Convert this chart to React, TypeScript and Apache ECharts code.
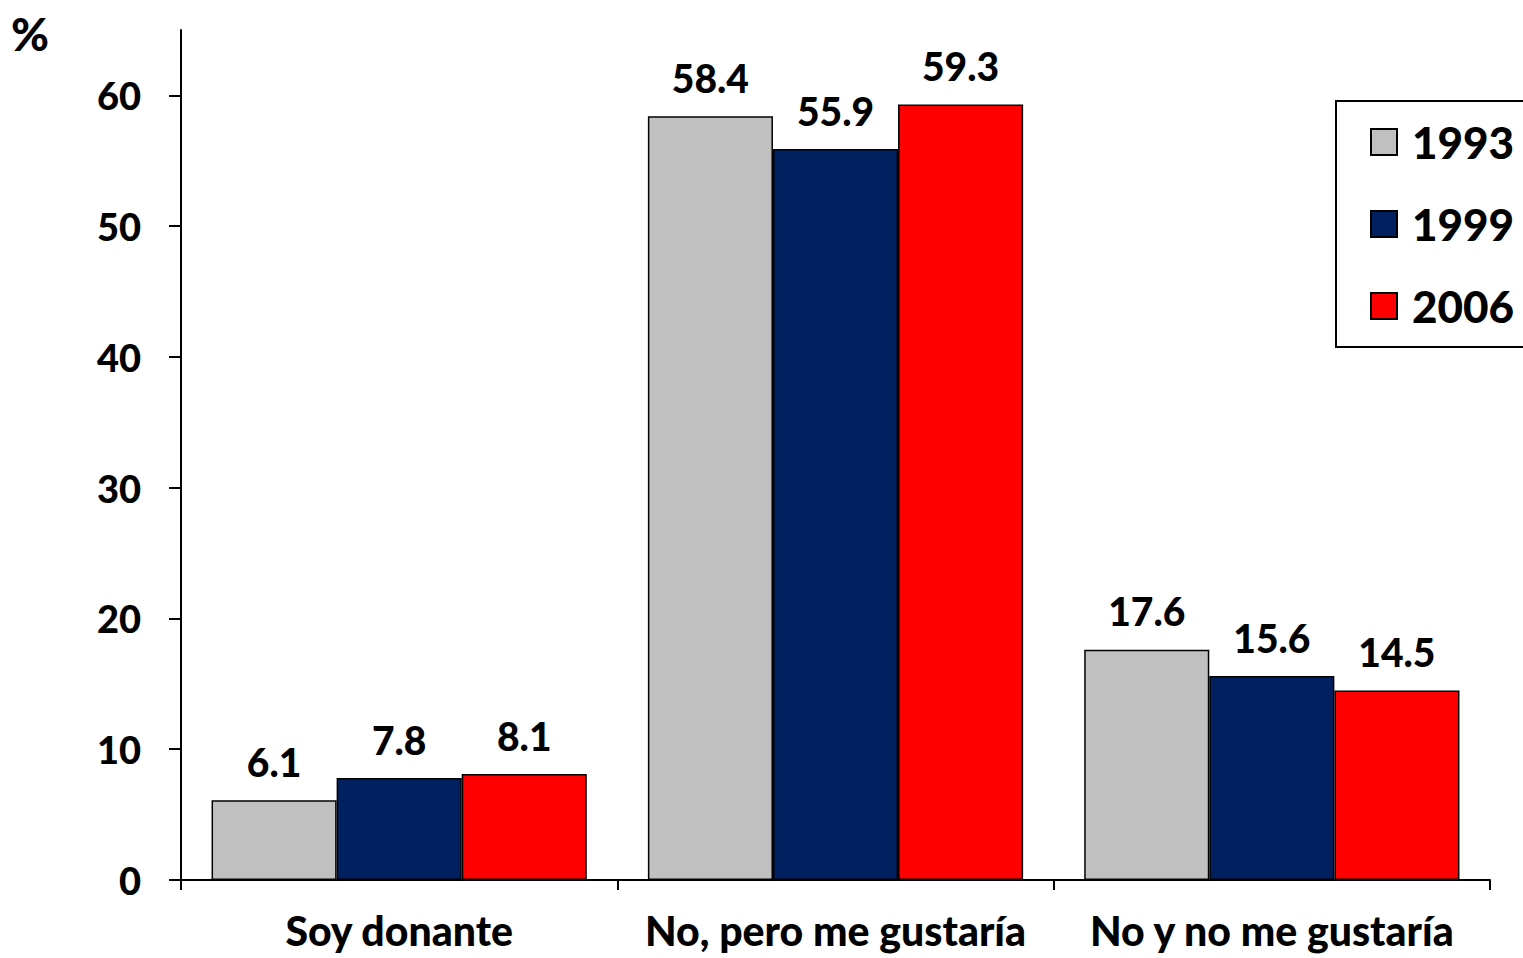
import React, { useEffect, useRef } from "react";
import * as echarts from "echarts";

const categories = ["Soy donante", "No, pero me gustaría", "No y no me gustaría"];
const seriesNames = ["1993", "1999", "2006"];
const values1993 = [6.1, 58.4, 17.6];
const values1999 = [7.8, 55.9, 15.6];
const values2006 = [8.1, 59.3, 14.5];
const colors = ["#C0C0C0", "#002060", "#FF0000"];

const FONT = "Lato";
const W = 900;

export default function App() {
  const ref = useRef<HTMLDivElement>(null);
  useEffect(() => {
    if (!ref.current) return;
    const chart = echarts.init(ref.current, null, { renderer: "svg" });
    const data = [values1993, values1999, values2006];
    chart.setOption({
      animation: false,
      textStyle: { fontFamily: FONT, fontWeight: W, color: "#000" },
      grid: { left: 181, right: 33, top: 30, bottom: 78, containLabel: false },
      graphic: [
        {
          type: "text",
          left: 11,
          top: 10,
          style: { text: "%", fontSize: 46, fontWeight: W, fontFamily: FONT, fill: "#000" },
        },
      ],
      legend: {
        orient: "vertical",
        left: 1336,
        top: 101,
        padding: [16, 30, 16, 34],
        itemGap: 32,
        itemWidth: 26,
        itemHeight: 26,
        borderColor: "#000",
        borderWidth: 2,
        borderRadius: 0,
        icon: "rect",
        data: seriesNames,
        textStyle: {
          fontFamily: FONT,
          fontWeight: W,
          fontSize: 44,
          lineHeight: 50,
          color: "#000",
          padding: [0, 0, 0, 10],
        },
      },
      xAxis: {
        type: "category",
        data: categories,
        axisLine: { lineStyle: { color: "#000", width: 2 } },
        axisTick: { show: true, length: 10, lineStyle: { color: "#000", width: 2 } },
        axisLabel: {
          fontFamily: FONT,
          fontWeight: W,
          fontSize: 41,
          color: "#000",
          margin: 30,
          interval: 0,
        },
      },
      yAxis: {
        type: "value",
        min: 0,
        max: 65,
        interval: 10,
        splitLine: { show: false },
        axisLine: { show: true, lineStyle: { color: "#000", width: 2 } },
        axisTick: { show: true, length: 12, lineStyle: { color: "#000", width: 2 } },
        axisLabel: {
          fontFamily: FONT,
          fontWeight: W,
          fontSize: 38,
          color: "#000",
          margin: 40,
          showMaxLabel: false,
        },
      },
      series: seriesNames.map((name, i) => ({
        name,
        type: "bar",
        data: data[i],
        barGap: "0%",
        barCategoryGap: "14%",
        itemStyle: { color: colors[i], borderColor: "#000", borderWidth: 1.5 },
        label: {
          show: true,
          position: "top",
          distance: 19,
          fontFamily: FONT,
          fontWeight: W,
          fontSize: 39,
          color: "#000",
          formatter: (p: any) => p.value.toFixed(1),
        },
      })),
    });
    return () => chart.dispose();
  }, []);
  return <div ref={ref} style={{ width: 1523, height: 958, position: "absolute", left: 0, top: 0 }} />;
}
